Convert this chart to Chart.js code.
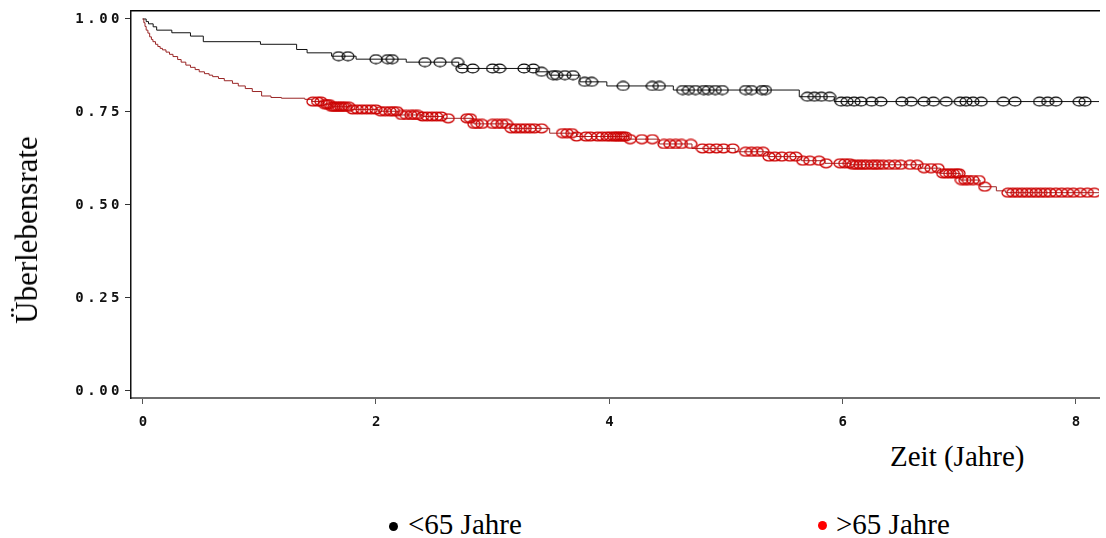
<!DOCTYPE html>
<html>
<head>
<meta charset="utf-8">
<script src="https://cdn.jsdelivr.net/npm/chart.js@4.4.0/dist/chart.umd.min.js"></script>
<style>
  html, body { margin: 0; padding: 0; background: #fff; overflow: hidden; width: 1106px; height: 538px; }
  #wrap { position: absolute; left: 0; top: 0; width: 1106px; height: 440px; }
  .lbl { position: absolute; font-family: 'Liberation Serif', 'Times New Roman', serif; color: #000; white-space: nowrap; line-height: normal; }
  .dot { position: absolute; width: 9px; height: 9px; border-radius: 50%; }
</style>
</head>
<body>
<div id="wrap"><canvas id="km"></canvas></div>
<div class="lbl" style="font-size:31px; left:27px; top:230px; transform:translate(-50%,-50%) rotate(-90deg);">Überlebensrate</div>
<div class="lbl" style="font-size:29px; left:890px; top:440px;">Zeit (Jahre)</div>
<div class="dot" style="left:389px; top:522px; background:#000;"></div>
<div class="lbl" style="font-size:29px; left:408px; top:508px;">&lt;65 Jahre</div>
<div class="dot" style="left:818px; top:521px; background:#f00;"></div>
<div class="lbl" style="font-size:29px; left:836px; top:508px;">&gt;65 Jahre</div>
<script>
const xTicks = [0, 2, 4, 6, 8];
const yTicks = [0, 0.25, 0.5, 0.75, 1.0];

// <65 Jahre: step times and survival after each step (last entry = end of follow-up)
const youngTimes = [0, 0.03, 0.05, 0.09, 0.12, 0.25, 0.41, 0.52, 1.01, 1.32, 1.41, 1.62, 1.83, 2.26, 2.71, 3.38, 3.49, 3.75, 3.98, 4.55, 5.63, 5.93, 8.2];
const youngSurv  = [1.0, 0.993, 0.987, 0.979, 0.970, 0.963, 0.954, 0.939, 0.932, 0.918, 0.909, 0.900, 0.892, 0.884, 0.867, 0.858, 0.849, 0.831, 0.820, 0.809, 0.791, 0.778, 0.778];
const youngCensored = [1.68, 1.76, 2.00, 2.10, 2.14, 2.42, 2.55, 2.70, 2.74, 2.83, 3.00, 3.06, 3.27, 3.35, 3.42, 3.52, 3.55,
  3.62, 3.69, 3.79, 3.85, 4.12, 4.37, 4.43, 4.63, 4.68, 4.74, 4.81, 4.85, 4.91, 4.97, 5.17, 5.22, 5.31, 5.34, 5.70, 5.76,
  5.82, 5.89, 5.99, 6.04, 6.10, 6.16, 6.25, 6.33, 6.51, 6.59, 6.70, 6.78, 6.89, 7.01, 7.06, 7.12, 7.19, 7.38, 7.48, 7.69,
  7.76, 7.83, 8.03, 8.08];

// >65 Jahre
const oldTimes = [0, 0.01, 0.02, 0.03, 0.045, 0.06, 0.075, 0.088, 0.11, 0.13, 0.15, 0.17, 0.20, 0.23, 0.26, 0.30, 0.33, 0.37,
  0.41, 0.45, 0.485, 0.53, 0.57, 0.60, 0.65, 0.70, 0.77, 0.82, 0.88, 0.94, 1.02, 1.10, 1.19, 1.39, 1.45, 1.55, 1.62, 1.79,
  2.02, 2.19, 2.40, 2.58, 2.84, 3.15, 3.49, 3.72, 4.17, 4.43, 4.71, 5.08, 5.36, 5.65, 5.85, 6.07, 6.67, 6.84, 7.01, 7.18,
  7.32, 7.40, 8.2];
const oldSurv = [1.0, 0.990, 0.980, 0.970, 0.962, 0.952, 0.945, 0.939, 0.932, 0.926, 0.921, 0.917, 0.911, 0.905, 0.899, 0.891,
  0.884, 0.876, 0.870, 0.864, 0.858, 0.853, 0.849, 0.845, 0.840, 0.834, 0.827, 0.820, 0.813, 0.805, 0.793, 0.789, 0.787,
  0.784, 0.778, 0.771, 0.764, 0.757, 0.752, 0.742, 0.738, 0.733, 0.718, 0.706, 0.693, 0.684, 0.677, 0.664, 0.652, 0.643,
  0.630, 0.619, 0.612, 0.608, 0.599, 0.585, 0.567, 0.549, 0.538, 0.533, 0.533];
const oldCensored = [1.46, 1.50, 1.53, 1.56, 1.58, 1.60, 1.62, 1.64, 1.66, 1.68, 1.70, 1.72, 1.74, 1.77, 1.80, 1.84, 1.88,
  1.92, 1.96, 2.00, 2.04, 2.08, 2.12, 2.15, 2.18, 2.22, 2.26, 2.30, 2.33, 2.36, 2.40, 2.44, 2.48, 2.52, 2.56, 2.62, 2.78,
  2.81, 2.84, 2.87, 2.91, 3.00, 3.04, 3.08, 3.12, 3.16, 3.20, 3.24, 3.28, 3.32, 3.36, 3.42, 3.60, 3.64, 3.68, 3.72, 3.80,
  3.84, 3.90, 3.94, 3.98, 4.01, 4.04, 4.06, 4.08, 4.10, 4.12, 4.14, 4.18, 4.28, 4.37, 4.47, 4.52, 4.57, 4.62, 4.70, 4.80,
  4.86, 4.92, 4.98, 5.06, 5.17, 5.22, 5.27, 5.32, 5.37, 5.42, 5.48, 5.55, 5.60, 5.66, 5.72, 5.80, 5.86, 5.98, 6.02, 6.06,
  6.09, 6.12, 6.15, 6.18, 6.21, 6.25, 6.28, 6.31, 6.35, 6.40, 6.45, 6.50, 6.58, 6.64, 6.70, 6.76, 6.82, 6.86, 6.89, 6.92,
  6.95, 6.98, 7.00, 7.02, 7.05, 7.08, 7.12, 7.17, 7.22, 7.42, 7.46, 7.50, 7.54, 7.58, 7.62, 7.66, 7.70, 7.74, 7.78, 7.83,
  7.88, 7.93, 7.98, 8.04, 8.10, 8.16];

// survival value of a step curve at time t
function stepValue(times, surv, t) {
  let v = surv[0];
  for (let i = 0; i < times.length; i++) {
    if (times[i] <= t) v = surv[i]; else break;
  }
  return v;
}

function ellipseMark(color, lw) {
  const c = document.createElement('canvas');
  c.width = 14; c.height = 11;
  const g = c.getContext('2d');
  g.strokeStyle = color;
  g.lineWidth = lw;
  g.beginPath();
  g.ellipse(7, 5.5, 6, 4.4, 0, 0, Math.PI * 2);
  g.stroke();
  return c;
}

const curve = (times, surv) => times.map((t, i) => ({ x: t, y: surv[i] }));
const marks = (cens, times, surv) => cens.map(t => ({ x: t, y: stepValue(times, surv, t) }));

const spacing = {
  id: 'spacing',
  beforeLayout(chart) { chart.ctx.letterSpacing = '3.5px'; },
  beforeDraw(chart) { chart.ctx.letterSpacing = '3.5px'; }
};

const tickFont = { family: "'DejaVu Sans Mono', monospace", size: 14, weight: 'bold' };

new Chart(document.getElementById('km'), {
  type: 'line',
  data: {
    datasets: [
      { data: marks(oldCensored, oldTimes, oldSurv), showLine: false, pointStyle: ellipseMark('#cc0000', 1.3), pointRadius: 6 },
      { data: marks(youngCensored, youngTimes, youngSurv), showLine: false, pointStyle: ellipseMark('#000', 1.2), pointRadius: 6 },
      { data: curve(oldTimes, oldSurv), stepped: true, borderColor: '#9a2626', borderWidth: 1, pointRadius: 0, fill: false },
      { data: curve(youngTimes, youngSurv), stepped: true, borderColor: '#111', borderWidth: 1, pointRadius: 0, fill: false }
    ]
  },
  options: {
    animation: false,
    responsive: true,
    maintainAspectRatio: false,
    layout: { padding: { top: 11, left: 0, right: 0, bottom: 0 } },
    plugins: { legend: { display: false }, tooltip: { enabled: false } },
    scales: {
      x: {
        type: 'linear', min: -0.1, max: 8.2,
        afterBuildTicks: s => { s.ticks = xTicks.map(v => ({ value: v })); },
        afterFit: s => { s.height = 42; },
        ticks: { font: tickFont, color: '#111', padding: 10, maxRotation: 0, labelOffset: 2 },
        grid: { drawOnChartArea: false, tickLength: 6, color: '#555' },
        border: { color: '#6e6e6e', width: 2 }
      },
      top: {
        type: 'linear', position: 'top', min: -0.1, max: 8.2,
        afterFit: s => { s.height = 0; },
        ticks: { display: false },
        grid: { display: false },
        border: { color: '#000', width: 1.5 }
      },
      y: {
        min: -0.019, max: 1.0215,
        afterBuildTicks: s => { s.ticks = yTicks.map(v => ({ value: v })); },
        afterFit: s => { s.width = 131; },
        ticks: { font: tickFont, color: '#111', padding: 2, callback: v => v.toFixed(2) },
        grid: { drawOnChartArea: false, tickLength: 6, color: '#333' },
        border: { color: '#111', width: 1.5 }
      }
    }
  },
  plugins: [spacing]
});
</script>
</body>
</html>
